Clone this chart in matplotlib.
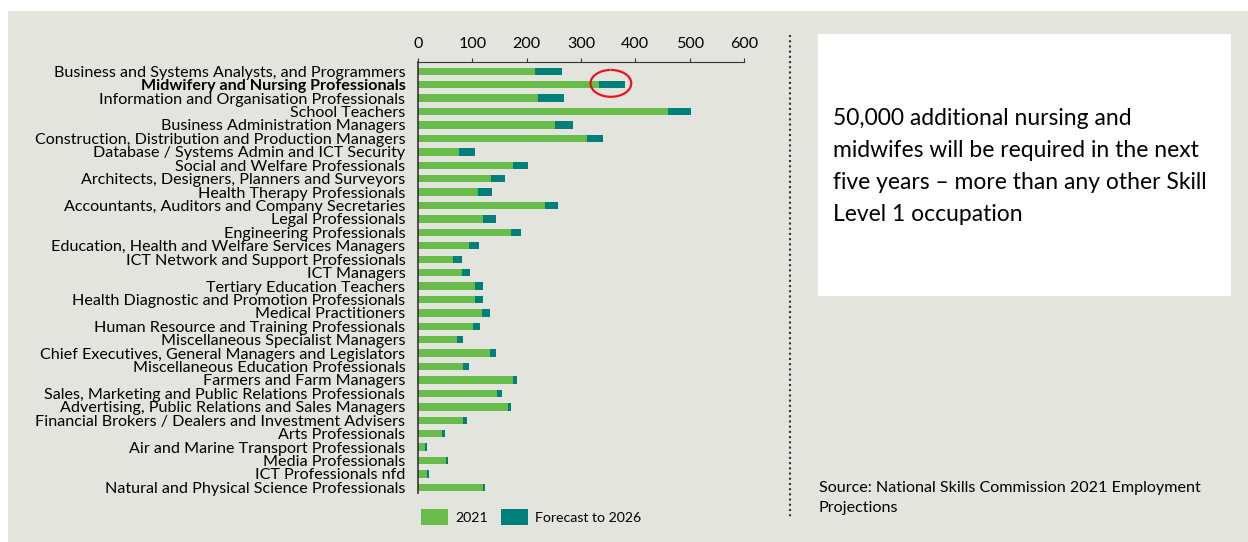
import matplotlib
matplotlib.use('Agg')
import matplotlib.pyplot as plt
from matplotlib.patches import Rectangle, Arc, Patch
from matplotlib.lines import Line2D

# données
occupations = [
    'Business and Systems Analysts, and Programmers',
    'Midwifery and Nursing Professionals',
    'Information and Organisation Professionals',
    'School Teachers',
    'Business Administration Managers',
    'Construction, Distribution and Production Managers',
    'Database / Systems Admin and ICT Security',
    'Social and Welfare Professionals',
    'Architects, Designers, Planners and Surveyors',
    'Health Therapy Professionals',
    'Accountants, Auditors and Company Secretaries',
    'Legal Professionals',
    'Engineering Professionals',
    'Education, Health and Welfare Services Managers',
    'ICT Network and Support Professionals',
    'ICT Managers',
    'Tertiary Education Teachers',
    'Health Diagnostic and Promotion Professionals',
    'Medical Practitioners',
    'Human Resource and Training Professionals',
    'Miscellaneous Specialist Managers',
    'Chief Executives, General Managers and Legislators',
    'Miscellaneous Education Professionals',
    'Farmers and Farm Managers',
    'Sales, Marketing and Public Relations Professionals',
    'Advertising, Public Relations and Sales Managers',
    'Financial Brokers / Dealers and Investment Advisers',
    'Arts Professionals',
    'Air and Marine Transport Professionals',
    'Media Professionals',
    'ICT Professionals nfd',
    'Natural and Physical Science Professionals',
]
emp_2021 = [215, 333, 221, 461, 253, 311, 75, 175, 134, 110, 233, 119, 171, 94, 64, 81,
            105, 105, 118, 102, 72, 132, 83, 175, 146, 165, 83, 45, 13, 51, 17, 119]
emp_2026 = [265, 381, 268, 502, 285, 340, 104, 203, 161, 136, 258, 143, 189, 112, 81, 95,
            119, 119, 132, 114, 83, 143, 93, 183, 154, 172, 90, 49, 17, 55, 21, 123]
forecast = [b - a for a, b in zip(emp_2021, emp_2026)]
xticks = [0, 100, 200, 300, 400, 500, 600]

note = ('50,000 additional nursing and\nmidwifes will be required in the next\n'
        'five years \u2013 more than any other Skill\nLevel 1 occupation')
source = 'Source: National Skills Commission 2021 Employment\nProjections'

GREEN = '#67bc4a'
TEAL = '#00807b'
BG = '#e4e4df'
FONT = ['Lato', 'DejaVu Sans']
plt.rcParams['font.family'] = FONT

W, H = 1248, 542
fig = plt.figure(figsize=(W / 100, H / 100), dpi=100)
fig.patch.set_facecolor('white')

# panneau gris
fig.add_artist(Rectangle((8 / W, 0), 1 - 8 / W, 1 - 11 / H, transform=fig.transFigure,
                         facecolor=BG, edgecolor='none', zorder=-10))
# boîte blanche
fig.add_artist(Rectangle((818 / W, 1 - 296 / H), (1231 - 818) / W, (296 - 34) / H,
                         transform=fig.transFigure, facecolor='white', edgecolor='none', zorder=-5))
# ligne pointillée
fig.add_artist(Line2D([790 / W, 790 / W], [1 - 35 / H, 1 - 517 / H], transform=fig.transFigure,
                      color='#333333', linestyle=(0, (1, 1.5)), linewidth=1.5))

ax = fig.add_axes([418 / W, 1 - 493 / H, (744 - 418) / W, (493 - 61.7) / H])
ax.set_facecolor('none')

ypos = list(range(len(occupations)))
ax.barh(ypos, emp_2021, height=0.55, color=GREEN, edgecolor='none')
ax.barh(ypos, forecast, left=emp_2021, height=0.55, color=TEAL, edgecolor='none')

ax.set_xlim(0, 600)
ax.set_ylim(len(occupations) - 1 + 0.42, -0.715)
ax.xaxis.tick_top()
ax.set_xticks(xticks)
ax.set_xticklabels([str(t) for t in xticks], fontsize=11.6)
ax.tick_params(axis='x', direction='out', length=3, width=0.8, color='#333333', pad=5)
ax.set_yticks(ypos)
ax.set_yticklabels(occupations, fontsize=11.6)
ax.tick_params(axis='y', length=0, pad=9)
ax.get_yticklabels()[1].set_fontweight('bold')

for s in ['right', 'bottom']:
    ax.spines[s].set_visible(False)
ax.spines['top'].set_color('#333333')
ax.spines['left'].set_color('#333333')
ax.spines['left'].set_linewidth(1.2)

# cercle rouge
ax.add_patch(Arc((355, 0.9), 75, 2.0, theta1=-120, theta2=215, color='#e8141b', linewidth=1.6))

# légende
handles = [Patch(facecolor=GREEN, label='2021'), Patch(facecolor=TEAL, label='Forecast to 2026')]
fig.legend(handles=handles, loc='center', bbox_to_anchor=(531 / W, 1 - 517 / H), ncol=2,
           frameon=False, fontsize=10.2, handlelength=1.9, handleheight=1.4, columnspacing=0.9,
           handletextpad=0.5)

# textes
fig.text(833 / W, 1 - 166.5 / H, note, fontsize=16.5, va='center', ha='left', linespacing=1.66)
fig.text(819 / W, 1 - 498 / H, source, fontsize=11.6, va='center', ha='left', linespacing=1.55)

plt.savefig('out.png', dpi=100, facecolor=fig.get_facecolor())
